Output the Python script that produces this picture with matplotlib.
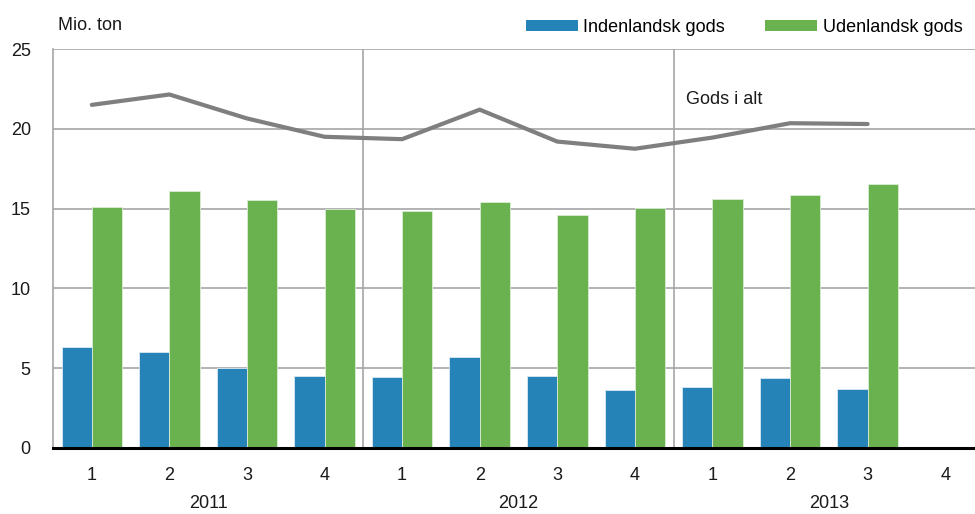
import matplotlib
matplotlib.use("Agg")
import matplotlib.pyplot as plt
from matplotlib.patches import Patch
import numpy as np

plt.rcParams['font.family'] = ['Liberation Sans Narrow', 'Liberation Sans', 'DejaVu Sans']

years = ["2011", "2012", "2013"]
quarters = ["1", "2", "3", "4", "1", "2", "3", "4", "1", "2", "3", "4"]
indenlandsk = [6.3, 6.0, 5.0, 4.5, 4.45, 5.7, 4.5, 3.65, 3.8, 4.4, 3.7, np.nan]
udenlandsk = [15.1, 16.1, 15.55, 14.95, 14.85, 15.4, 14.6, 15.05, 15.6, 15.85, 16.55, np.nan]
gods_i_alt = [21.5, 22.15, 20.65, 19.5, 19.35, 21.2, 19.2, 18.75, 19.45, 20.35, 20.3, np.nan]

blue = "#2683b8"
green = "#6ab250"
gray_line = "#7f7f7f"
grid_col = "#a6a6a6"

fig = plt.figure(figsize=(9.75, 5.14), dpi=100)
ax = fig.add_axes([53/975, 1-448/514, 931/975, (448-49)/514])

x = np.arange(len(quarters))
w = 0.39
ax.bar(x - w/2, indenlandsk, width=w, color=blue, edgecolor="#d9e8f2", linewidth=0.6, zorder=3)
ax.bar(x + w/2, udenlandsk, width=w, color=green, edgecolor="#dbecd3", linewidth=0.6, zorder=3)
ax.plot(x, gods_i_alt, color=gray_line, linewidth=3.0, solid_capstyle='round', zorder=4)

ax.set_xlim(-0.5, len(quarters) - 0.5)
ax.set_ylim(0, 25)
ax.set_yticks([0, 5, 10, 15, 20, 25])
ax.set_yticklabels(["0", "5", "10", "15", "20", "25"], fontsize=13)
ax.yaxis.grid(True, color=grid_col, linewidth=1.2, zorder=0)
ax.set_axisbelow(True)
ax.tick_params(axis='x', length=0, pad=14, colors="#1a1a1a")
ax.tick_params(axis='y', length=0, pad=16, colors="#1a1a1a")

for b in [3.5, 7.5]:
    ax.axvline(b, color=grid_col, linewidth=1.2, zorder=1)

ax.set_xticks(x)
ax.set_xticklabels(quarters, fontsize=13)

for i, yr in enumerate(years):
    ax.text(i*4 + 1.5, -0.138, yr, transform=ax.get_xaxis_transform(), ha='center', va='center',
            fontsize=13, color="#1a1a1a")

for s in ['top', 'right']:
    ax.spines[s].set_visible(False)
ax.spines['left'].set_color(grid_col)
ax.spines['left'].set_linewidth(1.2)
ax.spines['bottom'].set_color('black')
ax.spines['bottom'].set_linewidth(2.2)
ax.spines['bottom'].set_zorder(5)

fig.text(58/975, 1-25/514, "Mio. ton", fontsize=13, ha='left', va='center', color="#1a1a1a")
ax.text(7.66, 21.85, "Gods i alt", fontsize=13, ha='left', va='center', color="#1a1a1a")

handles = [Patch(facecolor=blue, edgecolor='none', label="Indenlandsk gods"),
           Patch(facecolor=green, edgecolor='none', label="Udenlandsk gods")]
leg = fig.legend(handles=handles, loc='center left', bbox_to_anchor=(522/975, 1-27/514), ncol=2,
                 frameon=False, fontsize=13, handlelength=2.9, handleheight=0.55,
                 handletextpad=0.3, columnspacing=2.2, borderaxespad=0.0, borderpad=0.2)

fig.savefig("out.png", dpi=100)
